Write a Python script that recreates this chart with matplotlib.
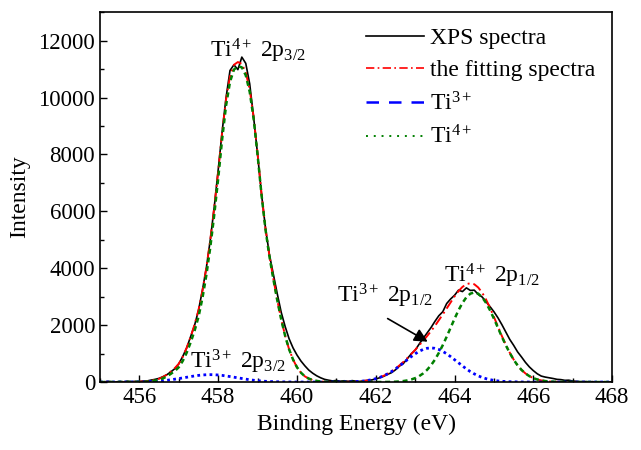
import numpy as np
import matplotlib
matplotlib.use("Agg")
import matplotlib.pyplot as plt
from matplotlib.lines import Line2D
from matplotlib.ticker import MultipleLocator

plt.rcParams['font.family'] = ['Liberation Serif', 'DejaVu Serif']
plt.rcParams['mathtext.fontset'] = 'custom'
plt.rcParams['mathtext.rm'] = 'Liberation Serif'
plt.rcParams['mathtext.it'] = 'Liberation Serif:italic'

# binding energy grid, 455.0 ... 468.0 eV in 0.1 eV steps
be = np.round(np.arange(4550, 4681) / 10.0, 1)

xps = [15, 5, 25, 10, 0, 20, 8, 30, 12, 25,
       18, 35, 40, 70, 95, 130, 190, 260, 360, 470,
       640, 900, 1200, 1600, 1990, 2520, 3230, 4020, 5000, 6150,
       7450, 8800, 10000, 10950, 11150, 10980, 11420, 11200, 10480, 9300,
       8000, 6600, 5420, 4480, 3780, 3100, 2450, 1950, 1520, 1200,
       950, 740, 570, 420, 310, 220, 150, 95, 65, 40,
       55, 30, 45, 25, 50, 30, 20, 45, 60, 75,
       110, 150, 200, 270, 330, 430, 560, 650, 820, 990,
       1120, 1330, 1530, 1720, 1910, 2130, 2330, 2470, 2760, 2920,
       3050, 3230, 3180, 3310, 3220, 3230, 3080, 2990, 2820, 2650,
       2470, 2260, 2020, 1760, 1500, 1290, 1060, 880, 690, 530,
       400, 290, 210, 175, 150, 125, 95, 85, 60, 65,
       35, 25, 10, 20, 5, 15, 0, 10, 5, 0,
       10]

fit = [0, 0, 0, 0, 0, 0, 1, 1, 2, 6,
       11, 19, 28, 48, 76, 115, 177, 262, 370, 490,
       642, 886, 1200, 1583, 2015, 2524, 3198, 4017, 5000, 6137,
       7398, 8764, 9935, 10743, 11150, 11246, 11182, 10880, 10280, 9312,
       8027, 6615, 5396, 4438, 3633, 2879, 2206, 1624, 1152, 791,
       520, 330, 200, 120, 70, 40, 20, 10, 5, 2,
       1, 2, 4, 7, 11, 17, 26, 39, 58, 84,
       118, 162, 220, 291, 374, 472, 584, 707, 841, 983,
       1130, 1286, 1446, 1611, 1786, 1970, 2169, 2374, 2586, 2803,
       3011, 3195, 3343, 3440, 3473, 3437, 3324, 3142, 2898, 2607,
       2285, 1949, 1620, 1312, 1035, 791, 590, 427, 302, 207,
       138, 90, 57, 35, 21, 12, 7, 4, 2, 0,
       0, 0, 0, 0, 0, 0, 0, 0, 0, 0,
       0]

ti3 = [0, 0, 0, 0, 0, 0, 1, 1, 2, 4,
       6, 9, 13, 18, 26, 35, 47, 62, 80, 100,
       122, 146, 170, 193, 215, 234, 248, 257, 260, 257,
       248, 234, 215, 193, 170, 146, 122, 100, 80, 62,
       47, 35, 26, 18, 13, 9, 6, 4, 2, 1,
       0, 0, 0, 0, 0, 0, 0, 0, 0, 0,
       1, 2, 4, 7, 11, 17, 26, 39, 58, 84,
       118, 162, 218, 287, 367, 460, 563, 672, 784, 893,
       992, 1079, 1145, 1186, 1200, 1186, 1145, 1079, 992, 893,
       784, 672, 563, 460, 367, 287, 218, 162, 118, 84,
       58, 39, 26, 17, 11, 7, 4, 2, 1, 0,
       0, 0, 0, 0, 0, 0, 0, 0, 0, 0,
       0, 0, 0, 0, 0, 0, 0, 0, 0, 0,
       0]

ti4 = [0, 0, 0, 0, 0, 0, 0, 0, 0, 2,
       5, 10, 15, 30, 50, 80, 130, 200, 290, 390,
       520, 740, 1030, 1390, 1800, 2290, 2950, 3760, 4740, 5880,
       7150, 8530, 9720, 10550, 10980, 11100, 11060, 10780, 10200, 9250,
       7980, 6580, 5370, 4420, 3620, 2870, 2200, 1620, 1150, 790,
       520, 330, 200, 120, 70, 40, 20, 10, 5, 2,
       0, 0, 0, 0, 0, 0, 0, 0, 0, 0,
       0, 0, 2, 4, 7, 12, 21, 35, 57, 90,
       138, 207, 301, 425, 586, 784, 1024, 1295, 1594, 1910,
       2227, 2523, 2780, 2980, 3106, 3150, 3106, 2980, 2780, 2523,
       2227, 1910, 1594, 1295, 1024, 784, 586, 425, 301, 207,
       138, 90, 57, 35, 21, 12, 7, 4, 2, 0,
       0, 0, 0, 0, 0, 0, 0, 0, 0, 0,
       0]

fig = plt.figure(figsize=(6.41, 4.5), dpi=100)
ax = fig.add_axes([0.156, 0.151, 0.799, 0.822])

ax.plot(be, xps, color='black', lw=1.2)
ax.plot(be, fit, color='red', lw=1.4, ls=(0, (5, 2, 1, 2)))
ax.plot(be, ti3, color='blue', lw=2.0, ls=(0, (1, 1.2)))
ax.plot(be, ti4, color='green', lw=1.8, ls=(0, (2, 1.5)))

ax.set_xlim(455, 468)
ax.set_ylim(0, 13000)
ax.xaxis.set_major_locator(MultipleLocator(2))
ax.xaxis.set_minor_locator(MultipleLocator(1))
ax.yaxis.set_major_locator(MultipleLocator(2000))
ax.yaxis.set_minor_locator(MultipleLocator(1000))
ax.tick_params(which='both', direction='in', labelsize=16.5, top=False, right=False)
ax.tick_params(which='major', length=5, width=1)
ax.tick_params(which='minor', length=3, width=1)
for sp in ax.spines.values():
    sp.set_linewidth(1.2)

ax.set_xlabel('Binding Energy (eV)', fontsize=17)
ax.set_ylabel('Intensity', fontsize=17, labelpad=6)

fs = 17
ax.text(459.0, 11400, r'Ti$^{\mathrm{4+}}$ 2p$_{\mathrm{3/2}}$', fontsize=fs, ha='center', va='baseline')
ax.text(458.5, 490, r'Ti$^{\mathrm{3+}}$ 2p$_{\mathrm{3/2}}$', fontsize=fs, ha='center', va='baseline')
ax.text(462.24, 2810, r'Ti$^{\mathrm{3+}}$ 2p$_{\mathrm{1/2}}$', fontsize=fs, ha='center', va='baseline')
ax.text(464.95, 3510, r'Ti$^{\mathrm{4+}}$ 2p$_{\mathrm{1/2}}$', fontsize=fs, ha='center', va='baseline')
ax.annotate('', xy=(463.38, 1370), xytext=(462.24, 2280),
            arrowprops=dict(arrowstyle='-|>', color='black', lw=1.2, mutation_scale=20))

handles = [
    Line2D([], [], color='black', lw=1.2),
    Line2D([], [], color='red', lw=1.2, ls=(0, (5, 2, 1, 2))),
    Line2D([], [], color='blue', lw=1.8, ls=(0, (5, 4))),
    Line2D([], [], color='green', lw=1.4, ls=(0, (1, 3))),
]
labels = ['XPS spectra', 'the fitting spectra', r'Ti$^{\mathrm{3+}}$', r'Ti$^{\mathrm{4+}}$']
ax.legend(handles, labels, loc='upper left', bbox_to_anchor=(0.49, 1.0), frameon=False,
          fontsize=17, handlelength=2.45, handletextpad=0.25, labelspacing=0.45,
          borderaxespad=0.25)

fig.savefig('out.png', dpi=100)
